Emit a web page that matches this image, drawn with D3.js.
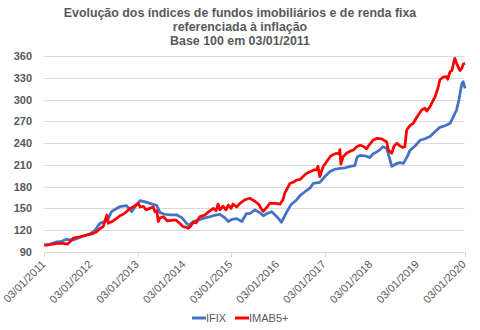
<!DOCTYPE html>
<html><head><meta charset="utf-8">
<script src="https://cdn.jsdelivr.net/npm/d3@7"></script>
<style>body{margin:0;background:#fff;}svg{display:block;font-family:"Liberation Sans",Arial,sans-serif;}</style>
</head><body>
<svg id="c" width="480" height="330"></svg>
<script>
const titleLines = ["Evolução dos índices de fundos imobiliários e de renda fixa","referenciada à inflação","Base 100 em 03/01/2011"];
const yTicks = [90,120,150,180,210,240,270,300,330,360];
const xTickYears = [2011,2012,2013,2014,2015,2016,2017,2018,2019,2020];
const xTickMarks = [2011,2013,2015,2017,2020];
const seriesNames = ["IFIX","IMAB5+"];

const ifixDates = [2011.00,2011.12,2011.27,2011.34,2011.48,2011.62,2011.76,2011.91,2012.00,2012.09,2012.19,2012.30,2012.36,2012.44,2012.55,2012.62,2012.76,2012.87,2012.94,2013.05,2013.16,2013.26,2013.41,2013.48,2013.58,2013.69,2013.84,2013.95,2014.05,2014.10,2014.19,2014.33,2014.40,2014.51,2014.62,2014.76,2014.87,2014.94,2015.02,2015.12,2015.23,2015.33,2015.40,2015.51,2015.62,2015.69,2015.77,2015.87,2015.98,2016.08,2016.19,2016.28,2016.40,2016.48,2016.58,2016.69,2016.76,2016.90,2017.01,2017.12,2017.22,2017.33,2017.44,2017.55,2017.65,2017.70,2017.76,2017.90,2017.97,2018.04,2018.12,2018.19,2018.25,2018.33,2018.38,2018.44,2018.55,2018.62,2018.69,2018.77,2018.83,2018.94,2019.05,2019.15,2019.26,2019.37,2019.47,2019.58,2019.69,2019.75,2019.83,2019.88,2019.94,2019.97,2020.01];
const ifixValues = [100,101,104,104.2,107.5,106.5,110,113.4,115.7,120.3,129.5,131.8,135,145.5,150,152.4,153.8,145.5,152,160.7,159,157,154,144,142,141,141,137,129,127,131.8,135,136.4,138,140,142,137,132,135,136,132,143,143,147.9,144,140,143,145.5,138.6,131,145,155,161.6,168,173,178,184.6,186,194,201,204,205.3,206,208,209,221,223,222,220,225,228,231,235,233,222,208,212,213,212,221,230,236,244,246,249,256,261.7,264,267.3,275,286,300,322,324.6,315.4];

const imabDates = [2011.00,2011.12,2011.27,2011.38,2011.50,2011.55,2011.62,2011.76,2011.91,2012.00,2012.12,2012.19,2012.26,2012.34,2012.37,2012.45,2012.55,2012.62,2012.69,2012.76,2012.83,2012.91,2013.01,2013.05,2013.12,2013.18,2013.26,2013.33,2013.37,2013.41,2013.44,2013.48,2013.55,2013.63,2013.76,2013.82,2013.91,2013.97,2014.05,2014.08,2014.14,2014.19,2014.25,2014.33,2014.44,2014.53,2014.62,2014.68,2014.72,2014.76,2014.83,2014.89,2014.94,2015.00,2015.04,2015.12,2015.19,2015.30,2015.40,2015.51,2015.60,2015.64,2015.69,2015.77,2015.83,2015.94,2016.05,2016.11,2016.15,2016.26,2016.33,2016.40,2016.48,2016.54,2016.62,2016.69,2016.77,2016.83,2016.86,2016.90,2016.97,2017.03,2017.12,2017.18,2017.26,2017.31,2017.33,2017.35,2017.40,2017.47,2017.55,2017.62,2017.69,2017.76,2017.82,2017.90,2017.95,2018.04,2018.12,2018.22,2018.27,2018.33,2018.37,2018.44,2018.49,2018.55,2018.62,2018.68,2018.72,2018.76,2018.83,2018.90,2018.98,2019.08,2019.15,2019.19,2019.26,2019.32,2019.37,2019.43,2019.47,2019.54,2019.62,2019.64,2019.69,2019.73,2019.77,2019.79,2019.84,2019.86,2019.90,2019.94,2019.97,2020.01];
const imabValues = [99,100,101.9,102,101,104,109,111,113.4,114.5,118,122,124.9,141,129.5,132,136.4,140,142,145.5,150,152.4,157,152,153,148,150.1,152,145.5,147,132,137,138.6,133,134,134,129,125,124,122.6,126,131,130,138.6,141,146,150,147,156,148,153,148,154.7,150,156,152,157,162,164,160,155,150,146,152,157,157,156,162,171,184.6,186,189,190,194,198.4,200.6,203,203,208,193.7,207.6,213,221.3,224,226,225,231,211,221.3,226,229,230.5,235,237,236,232,237,244,246.6,246,244,242,230,226,236,239.7,236,234,235,258,264,267.3,276,285.6,288,284,290.2,298,304,316,326.9,331,331.5,328,338.4,340,352,356.8,348,345.3,340,343,349,349.8];

const svg = d3.select("#c");
const grey = "#595959";
const plot = {left:44.3, right:464.6, top:56, bottom:252};
const x = d3.scaleLinear().domain([2011,2020]).range([plot.left, plot.right]);
const y = d3.scaleLinear().domain([90,360]).range([plot.bottom, plot.top]);

// title
svg.append("g").selectAll("text").data(titleLines).join("text")
  .attr("x",240).attr("y",(d,i)=>16.5+i*14.4)
  .attr("text-anchor","middle").attr("font-size",12.4).attr("font-weight","bold")
  .attr("fill",grey).text(d=>d);

// gridlines
svg.append("g").selectAll("line").data(yTicks.filter(v=>v>90)).join("line")
  .attr("x1",plot.left).attr("x2",plot.right)
  .attr("y1",d=>Math.round(y(d))+0.5).attr("y2",d=>Math.round(y(d))+0.5)
  .attr("stroke","#d9d9d9").attr("stroke-width",1);

// y labels
svg.append("g").selectAll("text").data(yTicks).join("text")
  .attr("x",32).attr("y",d=>y(d)+4)
  .attr("text-anchor","end").attr("font-size",11).attr("font-weight","bold")
  .attr("fill",grey).text(d=>d);

// x axis
const xa = svg.append("g");
xa.append("line").attr("x1",plot.left).attr("x2",plot.right)
  .attr("y1",Math.round(plot.bottom)+0.5).attr("y2",Math.round(plot.bottom)+0.5)
  .attr("stroke","#d9d9d9");
xa.selectAll("line.t").data(xTickMarks).join("line").attr("class","t")
  .attr("x1",d=>Math.round(x(d))+0.5).attr("x2",d=>Math.round(x(d))+0.5)
  .attr("y1",plot.bottom).attr("y2",plot.bottom+5).attr("stroke","#d9d9d9");
xa.selectAll("text").data(xTickYears).join("text")
  .attr("transform",d=>`translate(${x(d)+2},${plot.bottom+13}) rotate(-45)`)
  .attr("text-anchor","end").attr("font-size",11).attr("fill",grey)
  .text(d=>"03/01/"+d);

// lines
const line = d3.line().x(d=>x(d[0])).y(d=>y(d[1]));
const ifix = ifixDates.map((d,i)=>[d,ifixValues[i]]);
const imab = imabDates.map((d,i)=>[d,imabValues[i]]);
svg.append("path").datum(ifix).attr("d",line).attr("fill","none")
  .attr("stroke","#4472C4").attr("stroke-width",2.75).attr("stroke-linejoin","round");
svg.append("path").datum(imab).attr("d",line).attr("fill","none")
  .attr("stroke","#FF0000").attr("stroke-width",2.75).attr("stroke-linejoin","round");

// legend
const legColors = ["#4472C4","#FF0000"];
const legX = [192,235];
const lg = svg.append("g");
seriesNames.forEach((n,i)=>{
  lg.append("line").attr("x1",legX[i]).attr("x2",legX[i]+14).attr("y1",318).attr("y2",318)
    .attr("stroke",legColors[i]).attr("stroke-width",3);
  lg.append("text").attr("x",legX[i]+14).attr("y",322).attr("font-size",11)
    .attr("fill",grey).text(n);
});
</script>
</body></html>
